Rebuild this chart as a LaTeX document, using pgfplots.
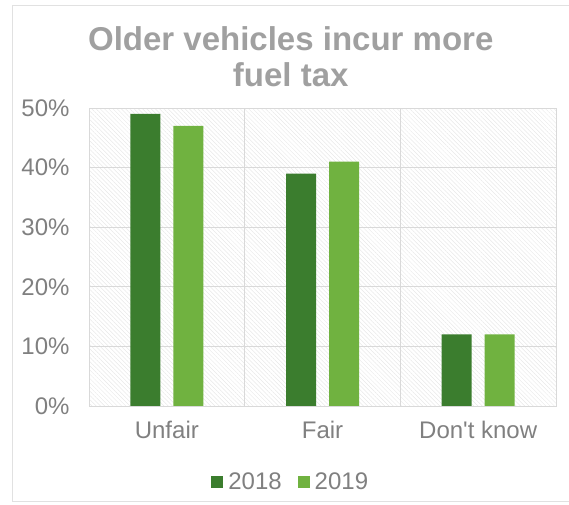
\documentclass[border=0pt]{standalone}
\usepackage{pgfplots}
\pgfplotsset{compat=1.18}
\usepackage{fontspec}
\setmainfont{Liberation Sans}[Ligatures=TeXOff]
\usetikzlibrary{patterns.meta}
\definecolor{dkgreen}{RGB}{59,125,46}
\definecolor{ltgreen}{RGB}{112,178,64}
\definecolor{txtgray}{RGB}{128,128,128}
\definecolor{ttlgray}{RGB}{160,160,160}
\definecolor{gridgray}{RGB}{217,217,217}
\definecolor{framegray}{RGB}{225,225,225}
\begin{document}
\begin{tikzpicture}
\path[use as bounding box] (0,0) rectangle (569bp,505bp);
\draw[framegray, line width=1bp] (12bp,3bp) rectangle (580bp,499bp);
\begin{axis}[
  at={(89bp,99bp)}, anchor=south west,
  scale only axis, width=467bp, height=298bp,
  xmin=-0.5, xmax=2.5, ymin=0, ymax=50,
  xtick={0,1,2}, xticklabels={Unfair,Fair,Don't know},
  minor xtick={0.5,1.5},
  ytick={0,10,20,30,40,50},
  yticklabels={0\%,10\%,20\%,30\%,40\%,50\%},
  ymajorgrids, xminorgrids,
  grid style={gridgray, line width=0.8bp},
  minor grid style={gridgray, line width=0.8bp},
  axis line style={gridgray, line width=0.8bp},
  major tick length=0pt, minor tick length=0pt,
  tick style={draw=none},
  ticklabel style={font=\fontsize{24bp}{26bp}\selectfont, text=txtgray},
  xticklabel style={anchor=north, yshift=-12bp},
  yticklabel style={anchor=east, xshift=-16bp},
  axis background/.style={pattern={Lines[angle=-45,distance=3bp,line width=0.5bp]}, pattern color=black!9},
  ybar, bar width=30bp,
  title={Older vehicles incur more\\fuel tax},
  title style={align=center, font=\bfseries\fontsize{33bp}{36bp}\selectfont, text=ttlgray, at={(0.432,1)}, anchor=south, yshift=12bp},
  legend columns=2,
  legend style={draw=none, fill=none, at={(0.432,-0.255)}, anchor=center,
    font=\fontsize{24bp}{26bp}\selectfont, text=txtgray,
    /tikz/every even column/.append style={column sep=14bp},
    /tikz/every odd column/.append style={column sep=3bp}},
  legend image code/.code={\fill[#1] (0bp,-6.5bp) rectangle (12bp,5.5bp);},
]
\addplot[fill=dkgreen, draw=none, bar shift=-21.5bp] coordinates {(0,49) (1,39) (2,12)};
\addplot[fill=ltgreen, draw=none, bar shift=21.5bp] coordinates {(0,47) (1,41) (2,12)};
\legend{2018,2019}
\end{axis}
\end{tikzpicture}
\end{document}
